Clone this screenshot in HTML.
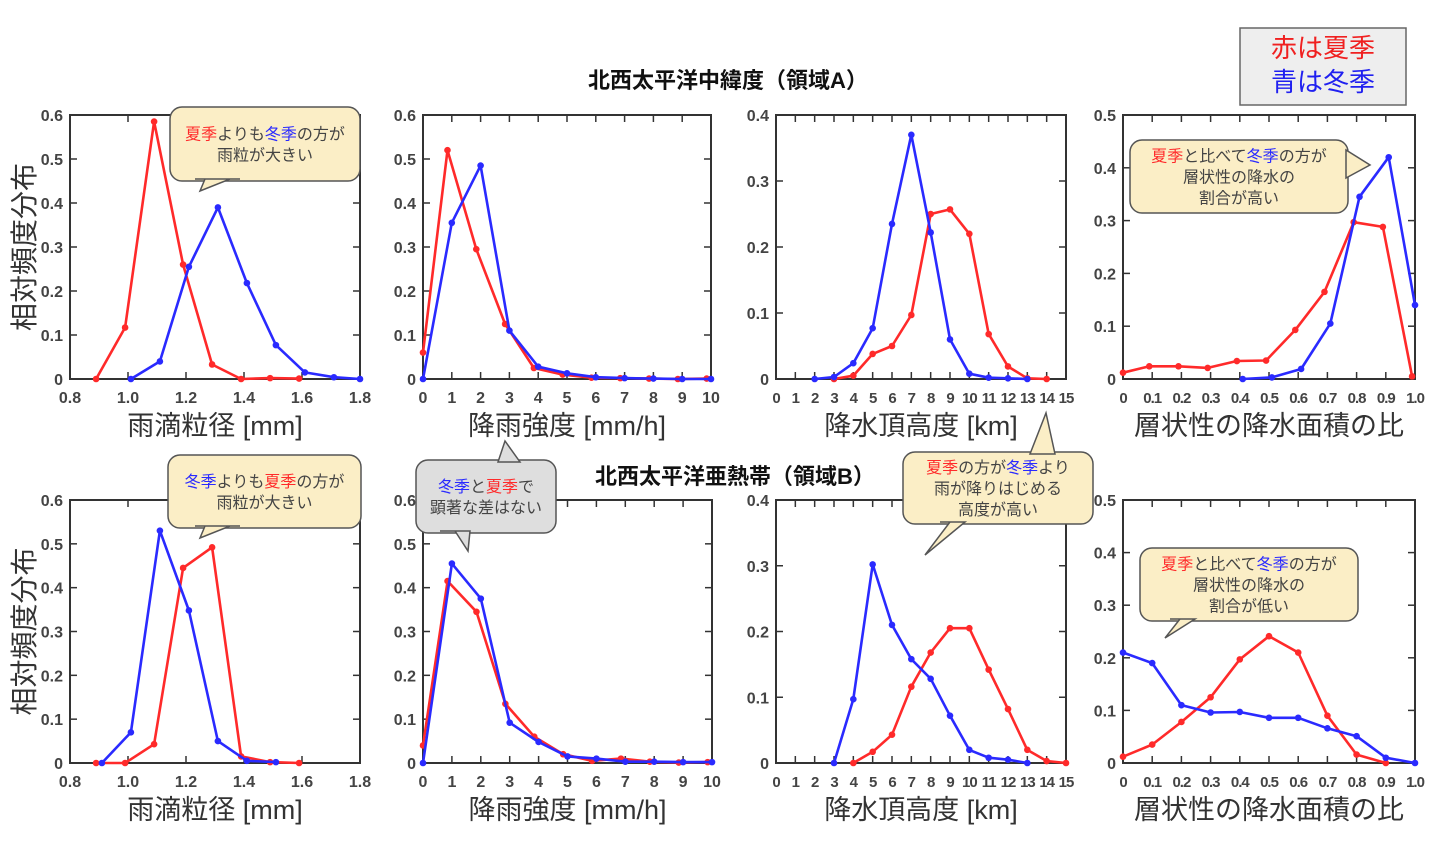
<!DOCTYPE html>
<html><head><meta charset="utf-8">
<style>
html,body{margin:0;padding:0;background:#fff;}
svg{display:block;}
text{font-family:"Liberation Sans","Noto Sans CJK JP",sans-serif;}
</style></head>
<body>
<svg id="s" width="1434" height="843" viewBox="0 0 1434 843" xmlns="http://www.w3.org/2000/svg">
<rect width="1434" height="843" fill="#fff"/>
<text x="728" y="88" font-size="22" font-weight="bold" text-anchor="middle" fill="#111">北西太平洋中緯度（領域A）</text>
<text x="735" y="484" font-size="22" font-weight="bold" text-anchor="middle" fill="#111">北西太平洋亜熱帯（領域B）</text>
<rect x="1240" y="28" width="166" height="77" fill="#eeeeee" stroke="#666" stroke-width="1.5"/>
<text x="1323" y="57" font-size="26" text-anchor="middle" fill="#f02020">赤は夏季</text>
<text x="1323" y="91" font-size="26" text-anchor="middle" fill="#2020f0">青は冬季</text>
<g id="plots"></g>
<g id="calls"></g>
</svg>
<script>
var NS="http://www.w3.org/2000/svg";
var g=document.getElementById('plots');
function el(t,a,txt,parent){var e=document.createElementNS(NS,t);for(var k in a)e.setAttribute(k,a[k]);if(txt!==undefined)e.textContent=txt;(parent||g).appendChild(e);return e;}
var RED="#ff2a2a",BLUE="#2a2aff";
function panel(L,R,T,B,xmin,xmax,ymax,ystep,xticks,xlab,fmt,xlabel,showY,series,xfs,xls){
  var sx=function(x){return L+(x-xmin)/(xmax-xmin)*(R-L);};
  var sy=function(y){return B-y/ymax*(B-T);};
  for(var v=0;v<=ymax+1e-9;v+=ystep){
    var y=sy(v);
    el('line',{x1:L,y1:y,x2:L+7,y2:y,stroke:'#333','stroke-width':1.5});
    el('line',{x1:R,y1:y,x2:R-7,y2:y,stroke:'#333','stroke-width':1.5});
    var s=(Math.abs(v)<1e-9)?'0':v.toFixed(1);
    el('text',{x:L-7,y:y+6,'font-size':16,'font-weight':'bold','text-anchor':'end',fill:'#444'},s);
  }
  xticks.forEach(function(v,i){
    var x=sx(v);
    el('line',{x1:x,y1:B,x2:x,y2:B-7,stroke:'#333','stroke-width':1.5});
    el('line',{x1:x,y1:T,x2:x,y2:T+7,stroke:'#333','stroke-width':1.5});
    if(xlab[i]!==null) el('text',{x:x,y:B+24,'font-size':xfs||16,'font-weight':'bold','text-anchor':'middle','letter-spacing':xls||0,fill:'#444'},xlab[i]);
  });
  el('rect',{x:L,y:T,width:R-L,height:B-T,fill:'none',stroke:'#333','stroke-width':2});
  el('text',{x:(L+R)/2,y:B+56,'font-size':27,'text-anchor':'middle',fill:'#333'},xlabel);
  if(showY){
    el('text',{x:0,y:0,'font-size':28,'text-anchor':'middle',fill:'#333',transform:'translate(34,'+((T+B)/2)+') rotate(-90)'},'相対頻度分布');
  }
  series.forEach(function(s){
    var pts=s.d.map(function(p){return sx(p[0]).toFixed(1)+','+sy(p[1]).toFixed(1);}).join(' ');
    el('polyline',{points:pts,fill:'none',stroke:s.c,'stroke-width':2.6,'stroke-linejoin':'round'});
    s.d.forEach(function(p){el('circle',{cx:sx(p[0]),cy:sy(p[1]),r:3.3,fill:s.c});});
  });
}
function rng(a,b,st){var r=[];for(var v=a;v<=b+1e-9;v+=st)r.push(Math.round(v*100)/100);return r;}
var t1=rng(0.8,1.8,0.2),l1=t1.map(function(v){return v.toFixed(1);});
var t2=rng(0,10,1),l2=t2.map(String);
var t3=rng(0,15,1),l3=t3.map(String);
var t4=rng(0,1,0.1),l4=t4.map(function(v,i){return i==0?'0':v.toFixed(1);});
panel(70,360,115,379,0.8,1.8,0.6,0.1,t1,l1,null,'雨滴粒径 [mm]',true,[
 {c:RED,d:[[0.89,0],[0.99,0.117],[1.09,0.585],[1.19,0.26],[1.29,0.033],[1.39,0],[1.49,0.002],[1.59,0.001]]},
 {c:BLUE,d:[[1.01,0],[1.11,0.04],[1.21,0.255],[1.31,0.39],[1.41,0.218],[1.51,0.077],[1.61,0.015],[1.71,0.004],[1.8,0]]}]);
panel(423,711,115,379,0,10,0.6,0.1,t2,l2,null,'降雨強度 [mm/h]',false,[
 {c:RED,d:[[0,0.06],[0.85,0.52],[1.85,0.295],[2.85,0.125],[3.85,0.025],[4.85,0.01],[5.85,0.003],[6.85,0.002],[7.85,0.001],[8.85,0],[9.85,0.001]]},
 {c:BLUE,d:[[0,0],[1,0.355],[2,0.485],[3,0.11],[4,0.028],[5,0.013],[6,0.004],[7,0.002],[8,0.001],[9,0],[10,0]]}]);
panel(776,1066,115,379,0,15,0.4,0.1,t3,l3,null,'降水頂高度 [km]',false,[
 {c:RED,d:[[3,0],[4,0.005],[5,0.038],[6,0.05],[7,0.097],[8,0.25],[9,0.257],[10,0.22],[11,0.068],[12,0.019],[13,0.001],[14,0]]},
 {c:BLUE,d:[[2,0],[3,0.003],[4,0.024],[5,0.077],[6,0.235],[7,0.37],[8,0.222],[9,0.06],[10,0.008],[11,0.002],[12,0.001],[13,0]]}],15,-1);
panel(1123,1415,115,379,0,1,0.5,0.1,t4,l4,null,'層状性の降水面積の比',false,[
 {c:RED,d:[[0,0.012],[0.09,0.024],[0.19,0.024],[0.29,0.021],[0.39,0.034],[0.49,0.035],[0.59,0.093],[0.69,0.165],[0.79,0.297],[0.89,0.288],[0.99,0.005]]},
 {c:BLUE,d:[[0.41,0],[0.51,0.003],[0.61,0.019],[0.71,0.105],[0.81,0.345],[0.91,0.42],[1.0,0.14]]}],15,-1);
panel(70,360,500,763,0.8,1.8,0.6,0.1,t1,l1,null,'雨滴粒径 [mm]',true,[
 {c:RED,d:[[0.89,0],[0.99,0],[1.09,0.043],[1.19,0.445],[1.29,0.492],[1.39,0.015],[1.49,0.002],[1.59,0]]},
 {c:BLUE,d:[[0.91,0],[1.01,0.07],[1.11,0.53],[1.21,0.348],[1.31,0.05],[1.41,0.005],[1.51,0.002]]}]);
panel(423,712,500,763,0,10,0.6,0.1,t2,l2,null,'降雨強度 [mm/h]',false,[
 {c:RED,d:[[0,0.04],[0.85,0.415],[1.85,0.345],[2.85,0.135],[3.85,0.06],[4.85,0.02],[5.85,0.005],[6.85,0.01],[7.85,0.003],[8.85,0.001],[9.85,0.002]]},
 {c:BLUE,d:[[0,0],[1,0.455],[2,0.375],[3,0.092],[4,0.048],[5,0.015],[6,0.01],[7,0.003],[8,0.003],[9,0.002],[10,0.002]]}]);
panel(776,1066,500,763,0,15,0.4,0.1,t3,l3,null,'降水頂高度 [km]',false,[
 {c:RED,d:[[4,0],[5,0.017],[6,0.043],[7,0.116],[8,0.168],[9,0.205],[10,0.205],[11,0.142],[12,0.082],[13,0.02],[14,0.003],[15,0]]},
 {c:BLUE,d:[[3,0],[4,0.097],[5,0.302],[6,0.21],[7,0.158],[8,0.128],[9,0.072],[10,0.02],[11,0.008],[12,0.005],[13,0]]}],15,-1);
panel(1123,1415,500,763,0,1,0.5,0.1,t4,l4,null,'層状性の降水面積の比',false,[
 {c:RED,d:[[0,0.012],[0.1,0.035],[0.2,0.078],[0.3,0.125],[0.4,0.197],[0.5,0.241],[0.6,0.21],[0.7,0.09],[0.8,0.016],[0.9,0]]},
 {c:BLUE,d:[[0,0.21],[0.1,0.19],[0.2,0.11],[0.3,0.096],[0.4,0.097],[0.5,0.086],[0.6,0.086],[0.7,0.066],[0.8,0.051],[0.9,0.01],[1,0]]}],15,-1);

var cg=document.getElementById('calls');
function call(x,y,w,h,fill,tails,lines){
  el('rect',{x:x,y:y,width:w,height:h,rx:12,ry:12,fill:fill,stroke:'#555','stroke-width':1.5},undefined,cg);
  tails.forEach(function(t){el('polygon',{points:t,fill:fill,stroke:'#555','stroke-width':1.5},undefined,cg);});
  var lh=21, y0=y+h/2-(lines.length-1)*lh/2+6;
  lines.forEach(function(ln,i){
    var tx=el('text',{x:x+w/2,y:y0+i*lh,'font-size':16,'text-anchor':'middle',fill:'#444'},undefined,cg);
    ln.forEach(function(seg){var sp=document.createElementNS(NS,'tspan');sp.textContent=seg[0];if(seg[1])sp.setAttribute('fill',seg[1]);tx.appendChild(sp);});
  });
}
var Y="#fbeec6",G="#dedede";
call(170,107,190,74,Y,["195,179 205,179 200,191 230,179 240,179"],[[['夏季',RED],['よりも'],['冬季',BLUE],['の方が']],[['雨粒が大きい']]]);
call(168,455,193,73,Y,["195,526 205,526 200,538 230,526 240,526"],[[['冬季',BLUE],['よりも'],['夏季',RED],['の方が']],[['雨粒が大きい']]]);
call(416,460,140,73,G,["440,531 470,531 468,551 455,531 450,531","498,462 520,462 505,441"],[[['冬季',BLUE],['と'],['夏季',RED],['で']],[['顕著な差はない']]]);
call(903,452,190,72,Y,["940,522 965,522 925,555 950,522","1030,454 1055,454 1046,413"],[[['夏季',RED],['の方が'],['冬季',BLUE],['より']],[['雨が降りはじめる']],[['高度が高い']]]);
call(1130,140,218,73,Y,["1346,150 1346,178 1370,165"],[[['夏季',RED],['と比べて'],['冬季',BLUE],['の方が']],[['層状性の降水の']],[['割合が高い']]]);
call(1140,548,218,73,Y,["1170,619 1195,619 1165,638 1180,619"],[[['夏季',RED],['と比べて'],['冬季',BLUE],['の方が']],[['層状性の降水の']],[['割合が低い']]]);
</script>
</body></html>
